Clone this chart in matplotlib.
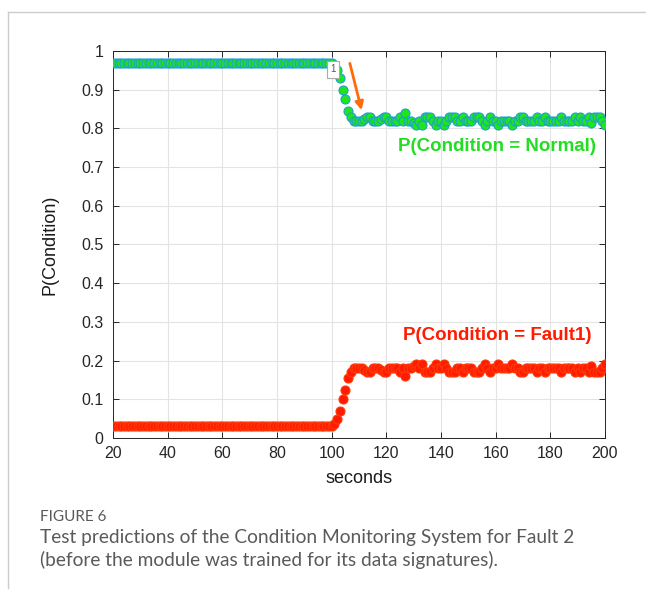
import numpy as np
import matplotlib
matplotlib.use("Agg")
import matplotlib.pyplot as plt
from matplotlib.lines import Line2D

# time axis, one sample per second
seconds = list(range(20, 201))

# P(Normal): flat until 100 s, then drops to ~0.82
normal_pre = [0.97] * 81  # 20..100
normal_post = [
    0.965, 0.95, 0.93, 0.90, 0.875, 0.845, 0.83, 0.82, 0.82, 0.82,
    0.82, 0.825, 0.83, 0.83, 0.82, 0.82, 0.82, 0.825, 0.83, 0.83,
    0.82, 0.82, 0.82, 0.82, 0.83, 0.82, 0.84, 0.82, 0.82, 0.815,
    0.81, 0.82, 0.81, 0.83, 0.83, 0.83, 0.82, 0.81, 0.82, 0.82,
    0.81, 0.82, 0.83, 0.83, 0.83, 0.82, 0.82, 0.83, 0.82, 0.82,
    0.82, 0.83, 0.83, 0.83, 0.82, 0.81, 0.82, 0.83, 0.82, 0.82,
    0.81, 0.82, 0.82, 0.82, 0.82, 0.81, 0.82, 0.82, 0.83, 0.83,
    0.82, 0.82, 0.82, 0.82, 0.83, 0.82, 0.82, 0.83, 0.82, 0.82,
    0.82, 0.82, 0.82, 0.83, 0.82, 0.82, 0.82, 0.82, 0.83, 0.82,
    0.83, 0.82, 0.82, 0.83, 0.815, 0.83, 0.83, 0.83, 0.82, 0.81,
]
# P(Fault1)
fault_pre = [0.03] * 81
fault_post = [
    0.035, 0.05, 0.07, 0.10, 0.125, 0.155, 0.17, 0.18, 0.18, 0.18,
    0.18, 0.175, 0.17, 0.17, 0.18, 0.18, 0.18, 0.175, 0.17, 0.17,
    0.18, 0.18, 0.18, 0.18, 0.17, 0.18, 0.16, 0.18, 0.18, 0.185,
    0.19, 0.18, 0.19, 0.17, 0.17, 0.17, 0.18, 0.19, 0.18, 0.18,
    0.19, 0.18, 0.17, 0.17, 0.17, 0.18, 0.18, 0.17, 0.18, 0.18,
    0.18, 0.17, 0.17, 0.17, 0.18, 0.19, 0.18, 0.17, 0.18, 0.18,
    0.19, 0.18, 0.18, 0.18, 0.18, 0.19, 0.18, 0.18, 0.17, 0.17,
    0.18, 0.18, 0.18, 0.18, 0.17, 0.18, 0.18, 0.17, 0.18, 0.18,
    0.18, 0.18, 0.18, 0.17, 0.18, 0.18, 0.18, 0.18, 0.17, 0.18,
    0.17, 0.18, 0.18, 0.17, 0.185, 0.17, 0.17, 0.17, 0.18, 0.19,
]
p_normal = normal_pre + normal_post
p_fault = fault_pre + fault_post

xticks = [20, 40, 60, 80, 100, 120, 140, 160, 180, 200]
yticks = [0, 0.1, 0.2, 0.3, 0.4, 0.5, 0.6, 0.7, 0.8, 0.9, 1]
ytick_labels = ["0", "0.1", "0.2", "0.3", "0.4", "0.5", "0.6", "0.7", "0.8", "0.9", "1"]

plt.rcParams['font.family'] = ['Liberation Sans', 'DejaVu Sans']

fig = plt.figure(figsize=(6.46, 5.92), dpi=100)
ax = fig.add_axes([0.175, 0.2601, 0.7615, 0.6538])

ax.plot(seconds, p_normal, 'o', ms=6.5, mfc='#1ee61e', mec='#1f9fd0', mew=0.8, zorder=3)
ax.plot(seconds, p_fault, 'o', ms=6.5, mfc='#ff1a00', mec='#ff3a08', mew=0.8, zorder=3)

ax.set_xlim(20, 200)
ax.set_ylim(0, 1)
ax.set_xticks(xticks)
ax.set_yticks(yticks)
ax.set_yticklabels(ytick_labels)
ax.grid(True, color='#e3e3e3', lw=0.8)
ax.set_axisbelow(True)
ax.tick_params(direction='in', top=True, right=True, length=4, width=0.7,
               colors='#262626', labelsize=11.5)
ax.tick_params(axis='x', pad=6)
ax.tick_params(axis='y', pad=7)
for s in ax.spines.values():
    s.set_color('#262626')
    s.set_linewidth(0.7)

ax.set_xlabel('seconds', fontsize=13, color='#1a1a1a', labelpad=6)
ax.set_ylabel('P(Condition)', fontsize=13, color='#1a1a1a', labelpad=16)

ax.text(160.5, 0.752, 'P(Condition = Normal)', color='#22dd22', fontsize=13.5,
        fontweight='bold', ha='center', va='center')
ax.text(160.5, 0.266, 'P(Condition = Fault1)', color='#ff1a00', fontsize=13.5,
        fontweight='bold', ha='center', va='center')

# orange arrow pointing at the drop
ax.annotate('', xy=(111.2, 0.84), xytext=(106.4, 0.975),
            arrowprops=dict(arrowstyle='-|>', color='#ff6a0a', lw=2,
                            mutation_scale=12))
# data tip marker
ax.text(100.5, 0.953, '1', fontsize=7, color='#555555', ha='center', va='center',
        bbox=dict(boxstyle='square,pad=0.35', fc='white', ec='#aaaaaa', lw=0.8),
        zorder=5)

# page frame lines
fig.add_artist(Line2D([8 / 646, 8 / 646], [1 - 12 / 592, 1 - 588 / 592],
                      color='#cccccc', lw=1))
fig.add_artist(Line2D([8 / 646, 1], [1 - 12 / 592, 1 - 12 / 592],
                      color='#cccccc', lw=1))

# caption
fig.text(40 / 646, 1 - 517 / 592, 'FIGURE 6', fontsize=11, color='#5a5a5a',
         family=['Lato', 'DejaVu Sans'], va='center')
fig.text(40 / 646, 1 - 537 / 592, 'Test predictions of the Condition Monitoring System for Fault 2',
         fontsize=13.8, color='#5a5a5a', family=['Lato', 'DejaVu Sans'], va='center')
fig.text(40 / 646, 1 - 560 / 592, '(before the module was trained for its data signatures).',
         fontsize=13.8, color='#5a5a5a', family=['Lato', 'DejaVu Sans'], va='center')

fig.savefig('out.png', dpi=100)
